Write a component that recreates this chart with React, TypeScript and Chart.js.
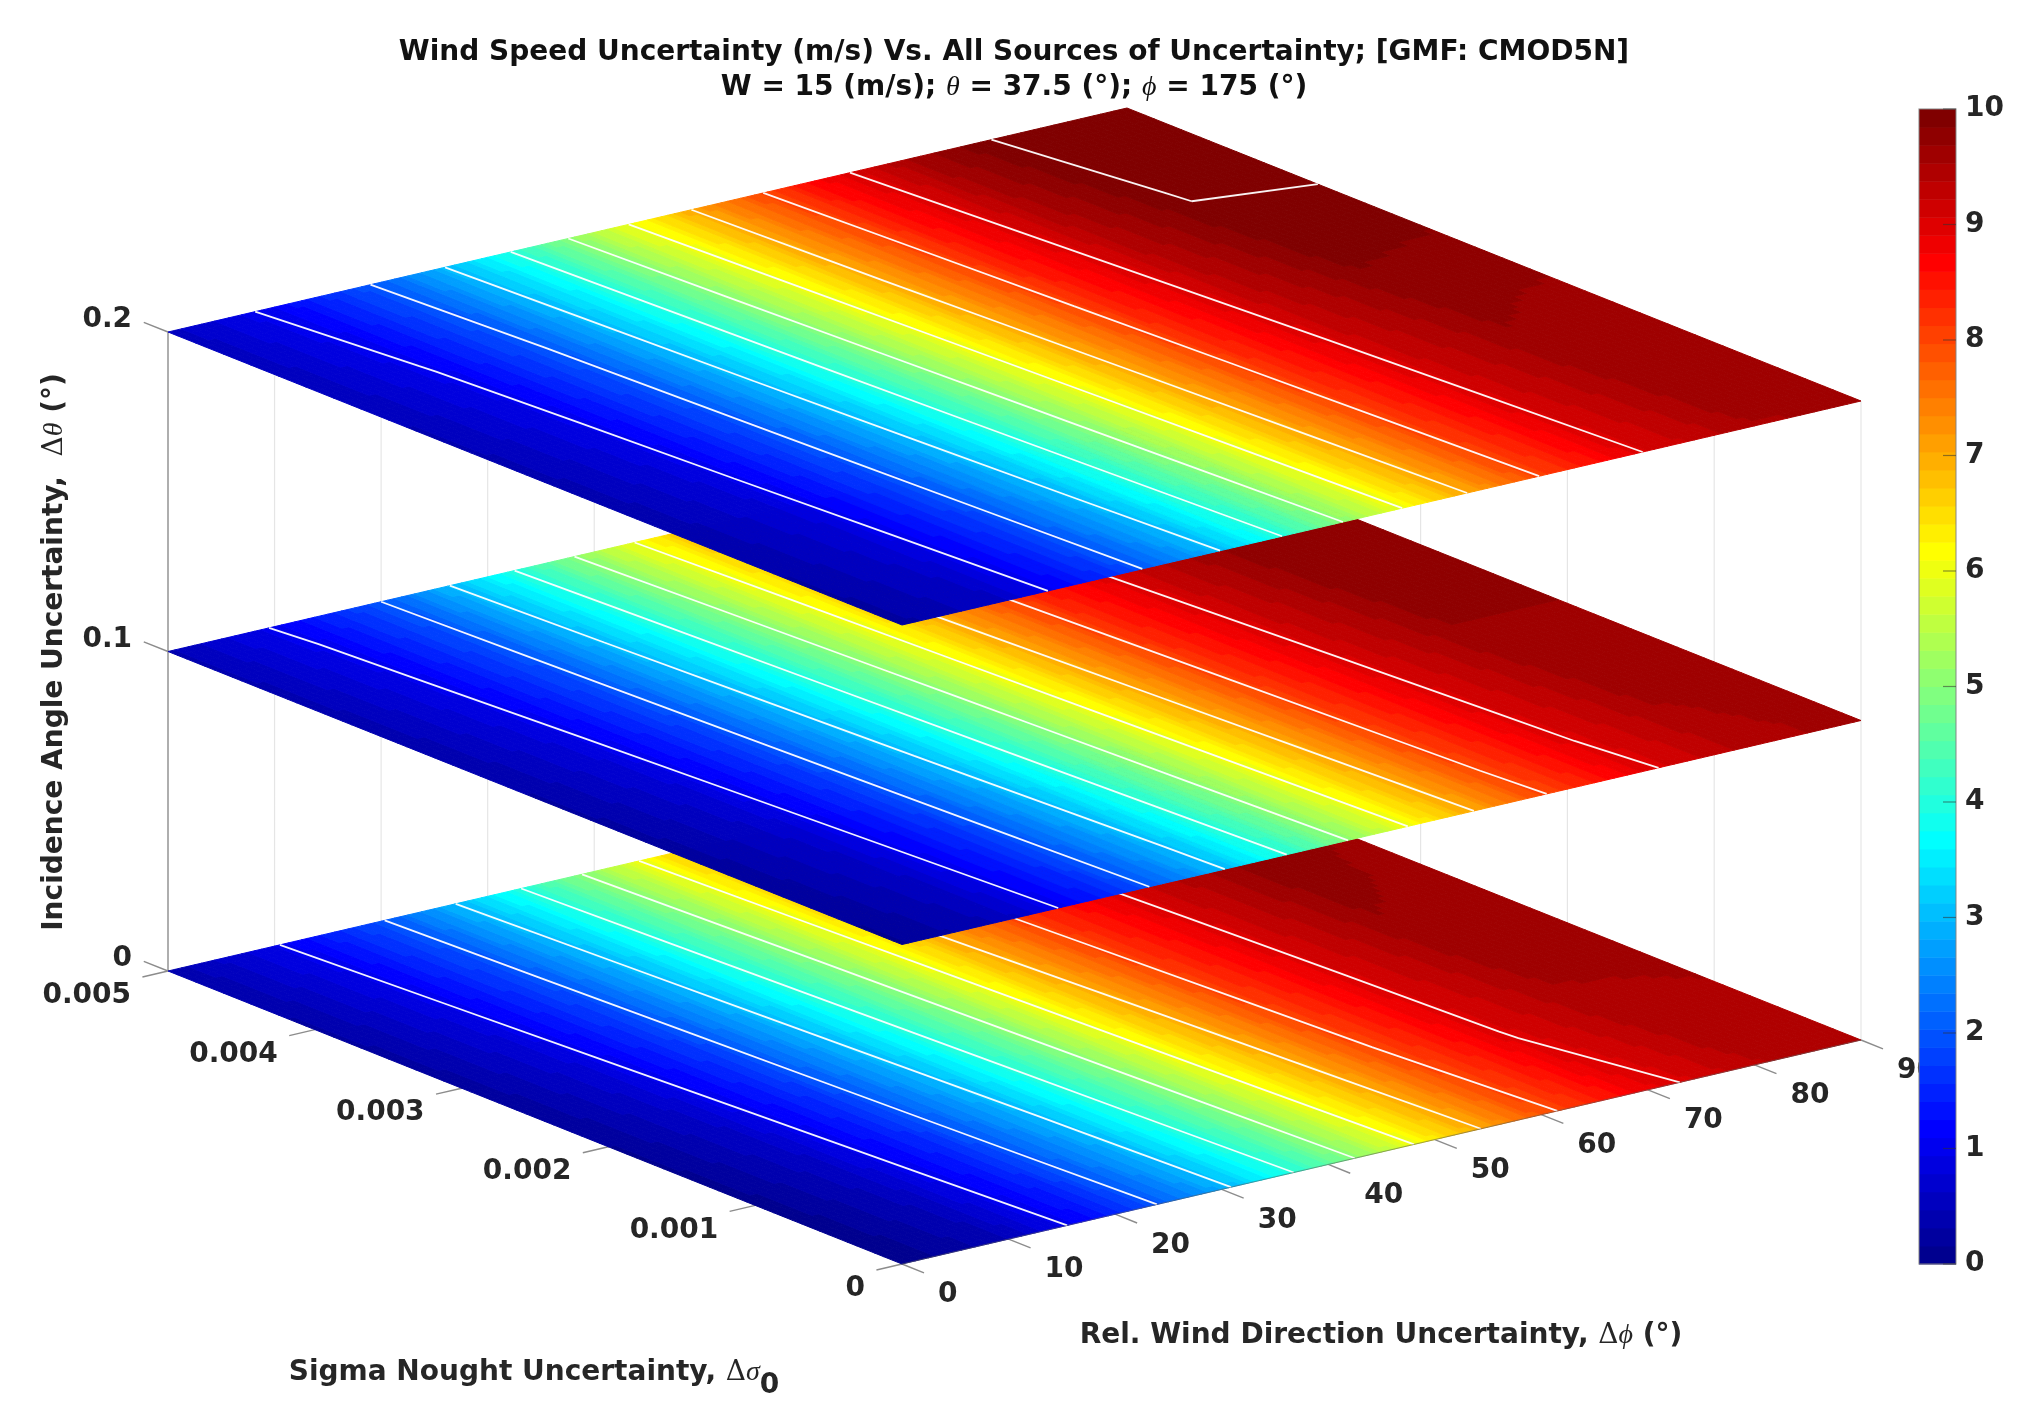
import { useEffect, useRef } from "react"
import { Chart, registerables } from "chart.js"

Chart.register(...registerables)

const phiTicks = [0, 10, 20, 30, 40, 50, 60, 70, 80, 90]
const sigmaTicks = [0, 0.001, 0.002, 0.003, 0.004, 0.005]
const thetaLevels = [0, 0.1, 0.2]
const contourLevels = [1, 2, 3, 4, 5, 6, 7, 8, 9, 10]
const colorbarTicks = [0, 1, 2, 3, 4, 5, 6, 7, 8, 9, 10]

// wind speed uncertainty, one row per sigma tick, one column per phi tick
const valuesTheta0 = [
  [0.0, 0.45, 1.45, 2.85, 4.55, 6.35, 7.85, 8.85, 9.35, 9.5],
  [0.07, 0.55, 1.55, 2.97, 4.68, 6.5, 7.98, 9.02, 9.48, 9.53],
  [0.14, 0.65, 1.65, 3.09, 4.81, 6.65, 8.11, 9.09, 9.62, 9.58],
  [0.21, 0.75, 1.75, 3.21, 4.94, 6.8, 8.24, 9.16, 9.74, 9.64],
  [0.28, 0.85, 1.85, 3.33, 5.07, 6.95, 8.37, 9.23, 9.76, 9.7],
  [0.35, 0.95, 1.95, 3.45, 5.2, 7.1, 8.5, 9.3, 9.8, 9.8],
]
const valuesTheta1 = [
  [0.12, 0.52, 1.55, 2.95, 4.67, 6.45, 7.95, 8.95, 9.45, 9.6],
  [0.19, 0.62, 1.64, 3.07, 4.8, 6.58, 8.07, 9.05, 9.56, 9.62],
  [0.26, 0.72, 1.73, 3.19, 4.93, 6.71, 8.19, 9.15, 9.68, 9.68],
  [0.33, 0.82, 1.82, 3.31, 5.06, 6.84, 8.31, 9.25, 9.8, 9.76],
  [0.39, 0.93, 1.91, 3.43, 5.19, 6.97, 8.43, 9.35, 9.86, 9.88],
  [0.45, 1.03, 2.0, 3.55, 5.33, 7.1, 8.55, 9.45, 9.95, 10.0],
]
const valuesTheta2 = [
  [0.25, 0.62, 1.65, 3.02, 4.75, 6.55, 8.03, 9.05, 9.52, 9.55],
  [0.31, 0.72, 1.74, 3.14, 4.89, 6.67, 8.14, 9.15, 9.62, 9.58],
  [0.37, 0.82, 1.83, 3.26, 5.03, 6.79, 8.25, 9.25, 9.72, 9.66],
  [0.43, 0.91, 1.92, 3.38, 5.17, 6.91, 8.37, 9.36, 9.9, 9.86],
  [0.49, 1.01, 2.01, 3.49, 5.31, 7.03, 8.48, 9.48, 10.02, 10.06],
  [0.55, 1.1, 2.1, 3.6, 5.45, 7.15, 8.6, 9.6, 10.15, 10.35],
]
const layerValues = [valuesTheta0, valuesTheta1, valuesTheta2]

const W = 2028
const H = 1428
const TICK_FONT = 'bold 28px "DejaVu Sans"'
const GREEK_FONT = 'italic 28px "Liberation Serif"'
const DELTA_FONT = '28px "DejaVu Serif"'
const SUBDIV = 16
const COLOR_STEPS = 64

// orthographic view: (phi, sigma, theta) to the view plane
function project(phi: number, sigma: number, theta: number) {
  const p = phi / 90
  const s = sigma / 0.005
  return {
    x: 902 + 959 * p - 734 * s,
    y: 1264 - 224 * p - 293 * s - 3195 * theta,
  }
}

function jet(v: number) {
  let i = Math.floor((v / 10) * COLOR_STEPS)
  i = Math.max(0, Math.min(COLOR_STEPS - 1, i))
  const t = (i + 1) / COLOR_STEPS
  const ramp = (c: number) => Math.round(255 * Math.max(0, Math.min(1, 1.5 - Math.abs(4 * t - c))))
  return `rgb(${ramp(3)},${ramp(2)},${ramp(1)})`
}

type Run = { text: string; font: string; dy?: number }

function drawRuns(ctx: CanvasRenderingContext2D, runs: Run[], x: number, y: number) {
  let total = 0
  runs.forEach((r) => {
    ctx.font = r.font
    total += ctx.measureText(r.text).width
  })
  let cx = x - total / 2
  ctx.textAlign = "left"
  ctx.textBaseline = "middle"
  runs.forEach((r) => {
    ctx.font = r.font
    ctx.fillText(r.text, cx, y + (r.dy || 0))
    cx += ctx.measureText(r.text).width
  })
}

const line = (pts: { x: number; y: number }[]) => pts

function segments(list: [number, number, number, number, number, number][]) {
  const out: { x: number; y: number }[] = []
  list.forEach(([a, b, c, d, e, f]) => {
    out.push(project(a, b, c), project(d, e, f), { x: NaN, y: NaN })
  })
  return out
}

const wallLines = segments([
  ...phiTicks.slice(1).map((p) => [p, 0.005, 0, p, 0.005, 0.2] as any),
  ...sigmaTicks.slice(0, 5).map((s) => [90, s, 0, 90, s, 0.2] as any),
])

const zAxisLine = line([project(0, 0.005, 0), project(0, 0.005, 0.2)])

const tickLines = segments([
  ...thetaLevels.map((t) => [0, 0.005, t, 0, 0.005165, t] as any),
  ...sigmaTicks.map((s) => [0, s, 0, -2.4, s, 0] as any),
  ...phiTicks.map((p) => [p, 0, 0, p, -0.00015, 0] as any),
])

const surfacePlugin = {
  id: "surfaces",
  afterDatasetsDraw(chart: any) {
    const { ctx, scales } = chart
    const toPx = (q: { x: number; y: number }) => ({
      x: scales.x.getPixelForValue(q.x),
      y: scales.y.getPixelForValue(q.y),
    })
    ctx.save()
    thetaLevels.forEach((theta, k) => {
      const grid = layerValues[k]
      ctx.lineWidth = 1
      for (let r = 0; r < sigmaTicks.length - 1; r++) {
        for (let c = 0; c < phiTicks.length - 1; c++) {
          const dp = (phiTicks[c + 1] - phiTicks[c]) / SUBDIV
          const ds = (sigmaTicks[r + 1] - sigmaTicks[r]) / SUBDIV
          for (let i = 0; i < SUBDIV; i++) {
            for (let j = 0; j < SUBDIV; j++) {
              const u = (i + 0.5) / SUBDIV
              const w = (j + 0.5) / SUBDIV
              const v =
                grid[r][c] * (1 - u) * (1 - w) +
                grid[r][c + 1] * u * (1 - w) +
                grid[r + 1][c] * (1 - u) * w +
                grid[r + 1][c + 1] * u * w
              const p0 = phiTicks[c] + i * dp
              const s0 = sigmaTicks[r] + j * ds
              const a = toPx(project(p0, s0, theta))
              const b = toPx(project(p0 + dp, s0, theta))
              const d = toPx(project(p0 + dp, s0 + ds, theta))
              const e = toPx(project(p0, s0 + ds, theta))
              const col = jet(v)
              ctx.fillStyle = col
              ctx.strokeStyle = col
              ctx.beginPath()
              ctx.moveTo(a.x, a.y)
              ctx.lineTo(b.x, b.y)
              ctx.lineTo(d.x, d.y)
              ctx.lineTo(e.x, e.y)
              ctx.closePath()
              ctx.fill()
              ctx.stroke()
            }
          }
        }
      }

      // contour lines, straight inside each grid cell
      ctx.strokeStyle = "rgba(255,255,255,0.95)"
      ctx.lineWidth = 1.8
      ctx.lineJoin = "round"
      contourLevels.forEach((level) => {
        ctx.beginPath()
        for (let r = 0; r < sigmaTicks.length - 1; r++) {
          for (let c = 0; c < phiTicks.length - 1; c++) {
            const corners = [
              [c, r],
              [c + 1, r],
              [c + 1, r + 1],
              [c, r + 1],
            ]
            const hits: { x: number; y: number }[] = []
            corners.forEach((q, n) => {
              const q2 = corners[(n + 1) % 4]
              const v1 = grid[q[1]][q[0]]
              const v2 = grid[q2[1]][q2[0]]
              if (v1 < level !== v2 < level) {
                const f = (level - v1) / (v2 - v1)
                const ph = phiTicks[q[0]] + f * (phiTicks[q2[0]] - phiTicks[q[0]])
                const sg = sigmaTicks[q[1]] + f * (sigmaTicks[q2[1]] - sigmaTicks[q[1]])
                hits.push(toPx(project(ph, sg, theta)))
              }
            })
            for (let h = 0; h + 1 < hits.length; h += 2) {
              ctx.moveTo(hits[h].x, hits[h].y)
              ctx.lineTo(hits[h + 1].x, hits[h + 1].y)
            }
          }
        }
        ctx.stroke()
      })

      if (k === 0) {
        // axis edges show as a hairline over the bottom surface
        ctx.strokeStyle = "rgba(90,90,90,0.55)"
        ctx.lineWidth = 1.2
        const a = toPx(project(0, 0, 0))
        const b = toPx(project(90, 0, 0))
        ctx.beginPath()
        ctx.moveTo(a.x, a.y)
        ctx.lineTo(b.x, b.y)
        ctx.stroke()
      }
    })
    ctx.restore()
  },
  afterDraw(chart: any) {
    const { ctx, scales } = chart
    const px = (q: { x: number; y: number }) => ({
      x: scales.x.getPixelForValue(q.x),
      y: scales.y.getPixelForValue(q.y),
    })
    ctx.save()

    // titles
    ctx.fillStyle = "#111"
    const tx = scales.x.getPixelForValue(1014)
    drawRuns(
      ctx,
      [{ text: "Wind Speed Uncertainty (m/s) Vs. All Sources of Uncertainty; [GMF: CMOD5N]", font: TICK_FONT }],
      tx,
      scales.y.getPixelForValue(53)
    )
    drawRuns(
      ctx,
      [
        { text: "W = 15 (m/s); ", font: TICK_FONT },
        { text: "θ", font: GREEK_FONT },
        { text: " = 37.5 (°); ", font: TICK_FONT },
        { text: "ϕ", font: GREEK_FONT },
        { text: " = 175 (°)", font: TICK_FONT },
      ],
      tx,
      scales.y.getPixelForValue(88)
    )

    // tick labels
    ctx.fillStyle = "#262626"
    ctx.font = TICK_FONT
    ctx.textBaseline = "middle"
    ctx.textAlign = "right"
    thetaLevels.forEach((t) => {
      const a = px(project(0, 0.005, t))
      ctx.fillText(String(t), a.x - 36, a.y - 12)
    })
    sigmaTicks.forEach((s) => {
      const a = px(project(0, s, 0))
      ctx.fillText(String(s), a.x - 37, a.y + 25)
    })
    ctx.textAlign = "left"
    phiTicks.forEach((p) => {
      const a = px(project(p, 0, 0))
      ctx.fillText(String(p), a.x + 36, a.y + 31)
    })

    // axis labels
    drawRuns(
      ctx,
      [
        { text: "Rel. Wind Direction Uncertainty, ", font: TICK_FONT },
        { text: "Δ", font: DELTA_FONT },
        { text: "ϕ", font: GREEK_FONT },
        { text: " (°)", font: TICK_FONT },
      ],
      1381,
      1336
    )
    drawRuns(
      ctx,
      [
        { text: "Sigma Nought Uncertainty, ", font: TICK_FONT },
        { text: "Δ", font: DELTA_FONT },
        { text: "σ", font: GREEK_FONT },
        { text: "0", font: TICK_FONT, dy: 13 },
      ],
      534,
      1373
    )
    ctx.save()
    ctx.translate(55, 652)
    ctx.rotate(-Math.PI / 2)
    drawRuns(
      ctx,
      [
        { text: "Incidence Angle Uncertainty,  ", font: TICK_FONT },
        { text: "Δ", font: DELTA_FONT },
        { text: "θ", font: GREEK_FONT },
        { text: " (°)", font: TICK_FONT },
      ],
      0,
      0
    )
    ctx.restore()

    // colorbar, on top of the clipped 90 label
    const barL = 1919
    const barR = 1956
    const bar = scales.bar
    for (let i = 0; i < COLOR_STEPS; i++) {
      const v0 = (i * 10) / COLOR_STEPS
      const v1 = ((i + 1) * 10) / COLOR_STEPS
      const top = bar.getPixelForValue(v1)
      const bottom = bar.getPixelForValue(v0)
      ctx.fillStyle = jet(v0 + 0.01)
      ctx.fillRect(barL, top, barR - barL, bottom - top + 0.5)
    }
    ctx.strokeStyle = "rgba(130,130,130,0.8)"
    ctx.lineWidth = 1.2
    ctx.strokeRect(barL, bar.getPixelForValue(10), barR - barL, bar.getPixelForValue(0) - bar.getPixelForValue(10))
    ctx.font = TICK_FONT
    ctx.textAlign = "left"
    ctx.textBaseline = "middle"
    colorbarTicks.forEach((t) => {
      const y = bar.getPixelForValue(t)
      ctx.strokeStyle = "rgba(50,50,50,0.55)"
      ctx.beginPath()
      ctx.moveTo(barR - 13, y)
      ctx.lineTo(barR, y)
      ctx.stroke()
      ctx.fillStyle = "#262626"
      ctx.fillText(String(t), 1965, y)
    })
    ctx.restore()
  },
}

export default function App() {
  const chartRef = useRef<HTMLCanvasElement>(null)

  useEffect(() => {
    if (!chartRef.current) return
    const chart = new Chart(chartRef.current, {
      type: "scatter",
      data: {
        datasets: [
          { data: wallLines, showLine: true, pointRadius: 0, borderWidth: 1.2, borderColor: "rgba(0,0,0,0.1)" },
          { data: zAxisLine, showLine: true, pointRadius: 0, borderWidth: 1.4, borderColor: "#8c8c8c" },
          { data: tickLines, showLine: true, pointRadius: 0, borderWidth: 1.4, borderColor: "#8c8c8c" },
        ],
      } as any,
      options: {
        animation: false,
        responsive: false,
        devicePixelRatio: 1,
        layout: { padding: 0 },
        plugins: { legend: { display: false }, tooltip: { enabled: false } },
        scales: {
          x: { type: "linear", min: 0, max: W, display: false },
          y: { type: "linear", min: 0, max: H, reverse: true, display: false },
          bar: { type: "linear", position: "right", min: -1.42, max: 10.9437, display: false },
        },
      } as any,
      plugins: [surfacePlugin],
    })
    return () => chart.destroy()
  }, [])

  return (
    <div style={{ position: "fixed", left: 0, top: 0, width: W, height: H, background: "#fff" }}>
      <canvas ref={chartRef} width={W} height={H} style={{ display: "block" }} />
    </div>
  )
}
